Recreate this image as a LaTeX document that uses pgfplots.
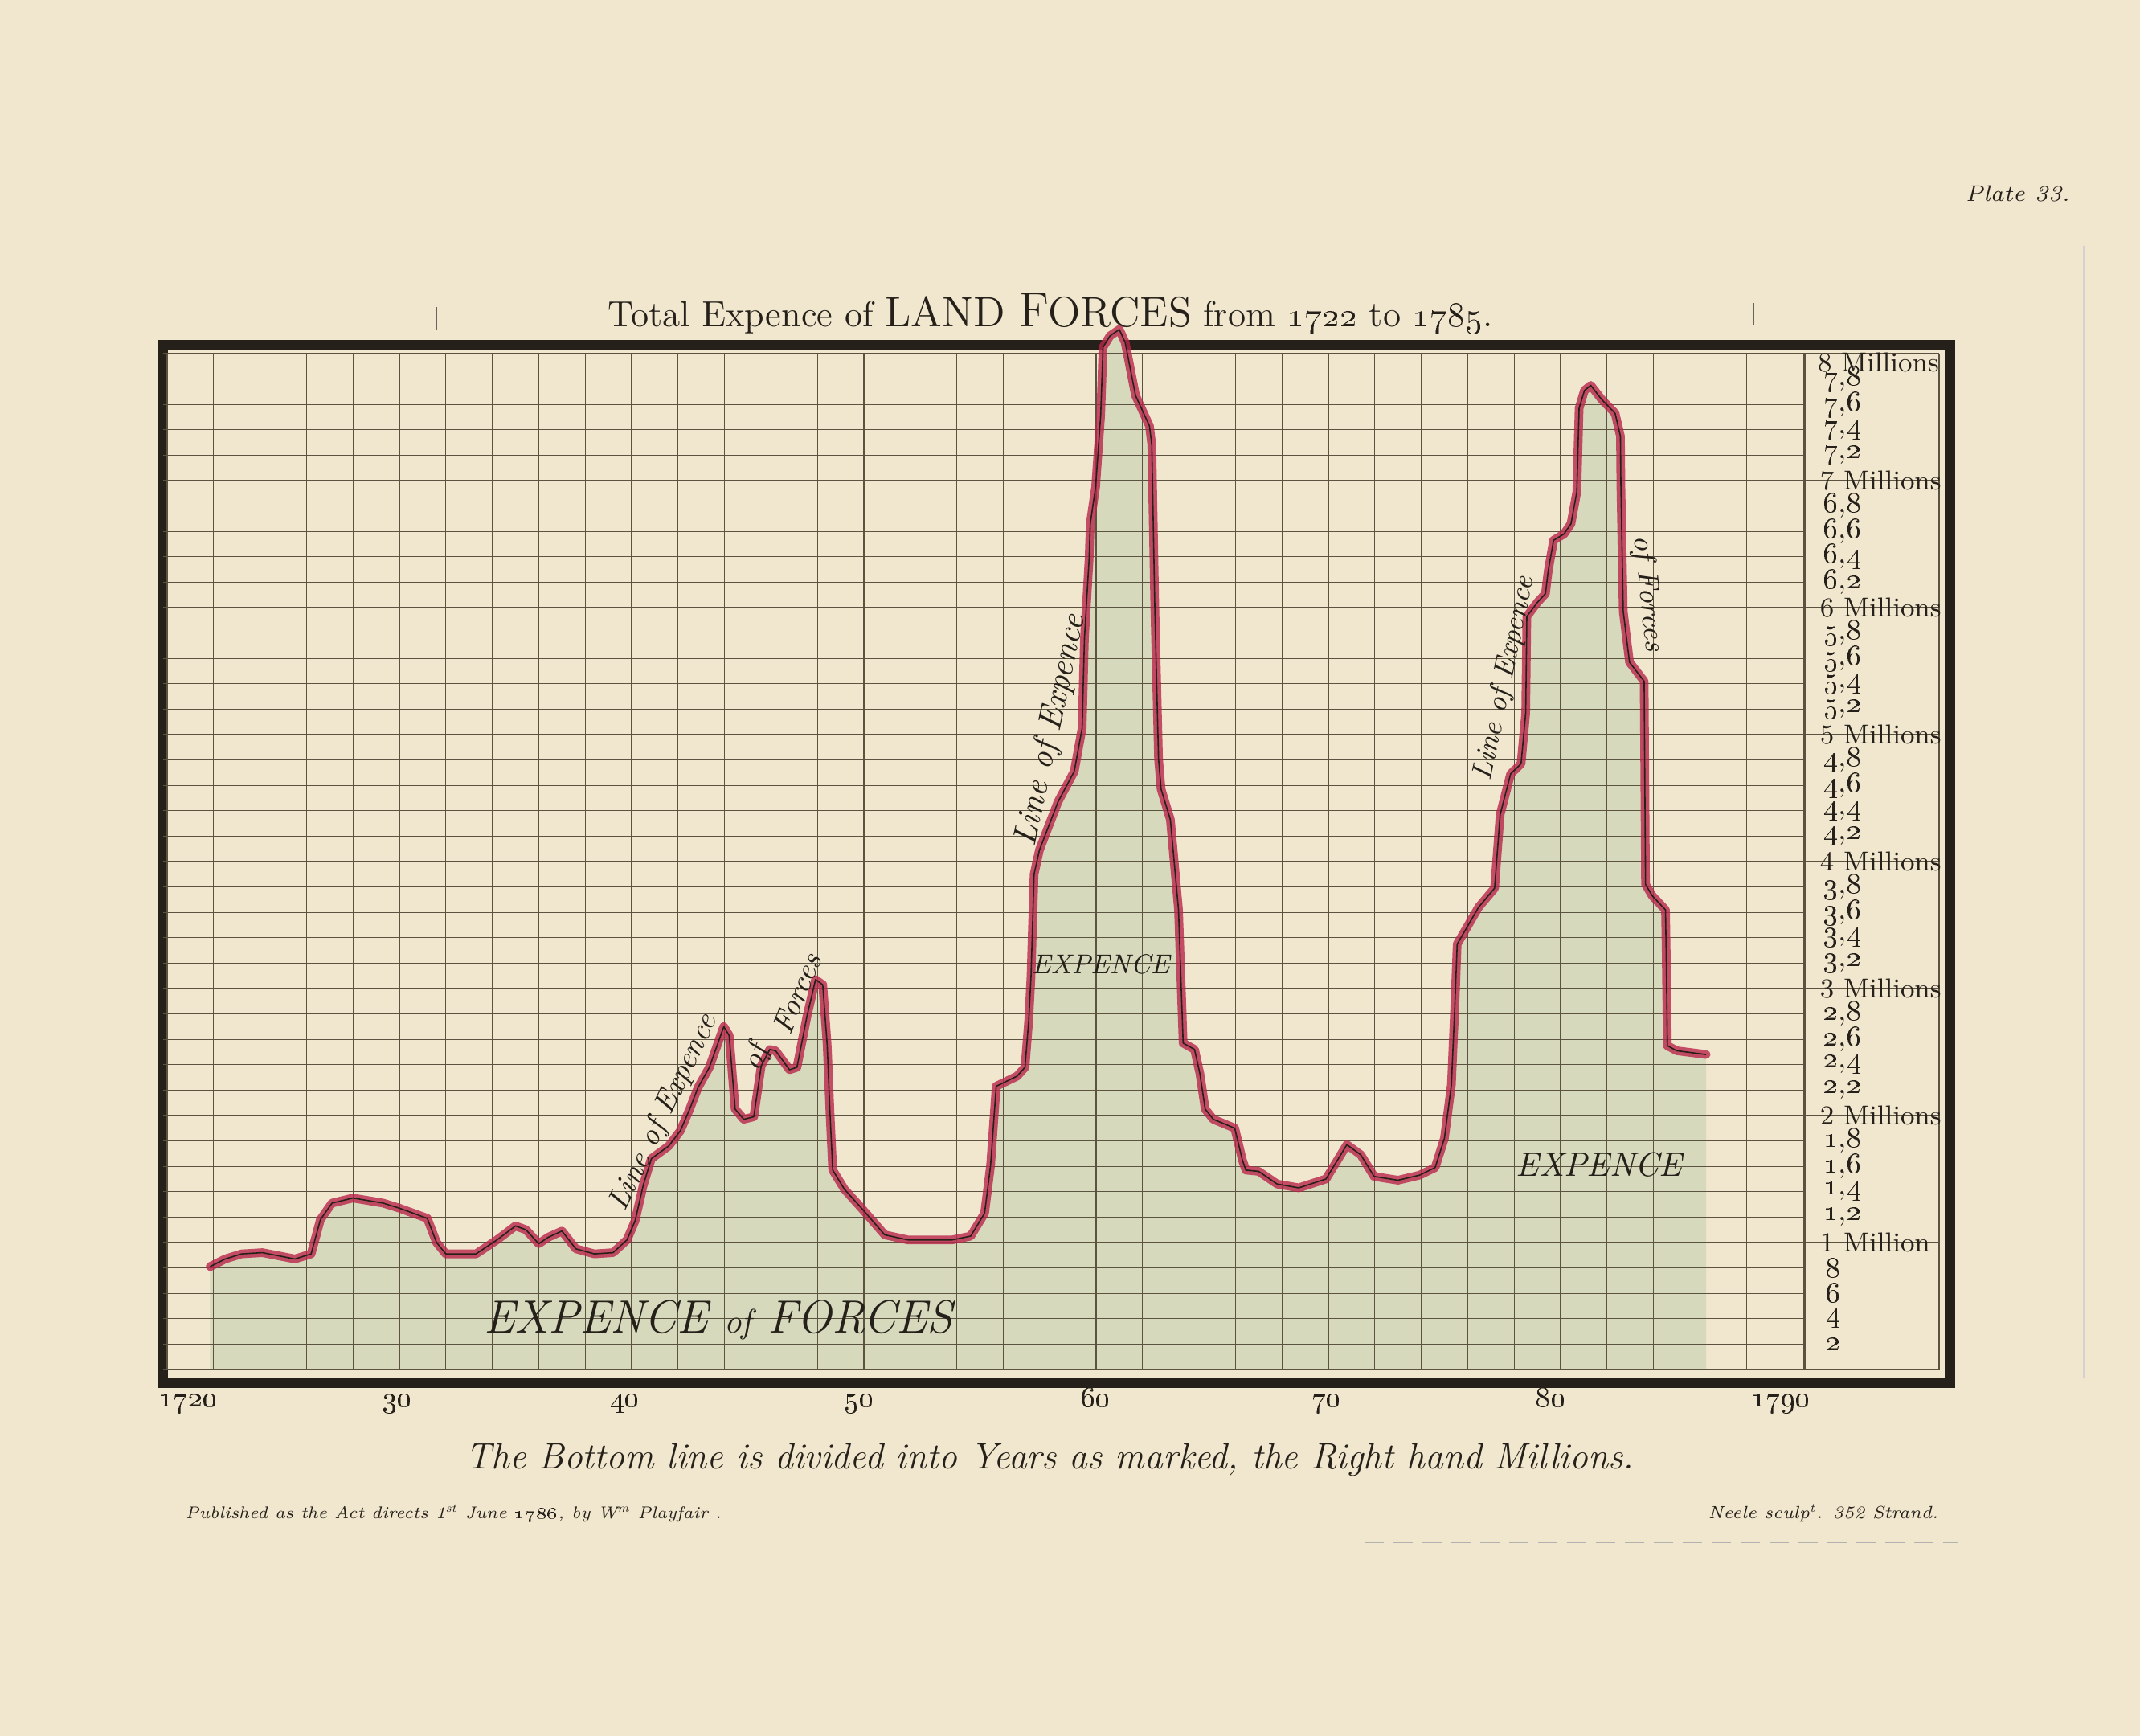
\documentclass[border=0pt]{standalone}
\usepackage{pgfplots}
\usepackage{pgfplotstable}
\pgfplotsset{compat=1.18}
\definecolor{paper}{RGB}{240,231,206}
\definecolor{wash}{RGB}{214,217,188}
\definecolor{ink}{RGB}{38,32,26}
\definecolor{gridc}{RGB}{92,82,64}
\definecolor{crimson}{RGB}{186,38,74}
\newcommand\os[1]{\oldstylenums{#1}}

\pgfplotstableread{
year value
1721.85 0.81
1722.5 0.87
1723.2 0.91
1724.1 0.92
1725.5 0.87
1726.2 0.91
1726.6 1.18
1727.1 1.31
1728.0 1.35
1729.3 1.31
1730.0 1.27
1731.2 1.19
1731.6 1.00
1732.0 0.91
1733.3 0.91
1734.2 1.02
1735.0 1.13
1735.45 1.10
1736.0 0.99
1736.4 1.04
1737.0 1.09
1737.6 0.95
1738.4 0.91
1739.2 0.92
1739.8 1.02
1740.15 1.17
1740.5 1.45
1740.85 1.66
1741.6 1.76
1742.1 1.88
1742.5 2.05
1742.86 2.22
1743.35 2.38
1743.97 2.70
1744.2 2.63
1744.46 2.05
1744.83 1.97
1745.26 1.99
1745.58 2.39
1745.95 2.52
1746.2 2.51
1746.8 2.36
1747.12 2.38
1747.55 2.78
1747.92 3.07
1748.23 3.03
1748.42 2.56
1748.54 2.03
1748.66 1.57
1749.16 1.42
1749.9 1.27
1750.9 1.06
1751.9 1.02
1753.8 1.02
1754.6 1.05
1755.2 1.23
1755.46 1.61
1755.7 2.23
1756.6 2.31
1756.94 2.38
1757.1 2.75
1757.2 3.10
1757.33 3.90
1757.56 4.09
1758.36 4.47
1759.06 4.71
1759.4 5.05
1759.5 5.76
1759.7 6.38
1759.75 6.66
1759.98 6.95
1760.2 7.52
1760.3 8.05
1760.6 8.14
1761.0 8.19
1761.25 8.09
1761.7 7.67
1762.3 7.43
1762.4 7.28
1762.53 6.00
1762.69 4.81
1762.8 4.57
1763.2 4.33
1763.55 3.62
1763.75 2.57
1764.24 2.52
1764.47 2.33
1764.7 2.05
1765.05 1.97
1765.97 1.90
1766.3 1.65
1766.45 1.57
1767.0 1.56
1767.8 1.46
1768.73 1.43
1769.9 1.50
1770.8 1.77
1771.4 1.69
1771.97 1.52
1773.0 1.49
1773.93 1.53
1774.6 1.59
1775.0 1.82
1775.3 2.24
1775.45 2.87
1775.55 3.35
1775.9 3.46
1776.47 3.64
1777.16 3.79
1777.4 4.37
1777.85 4.69
1778.3 4.77
1778.5 5.17
1778.55 5.93
1779.0 6.04
1779.35 6.11
1779.47 6.29
1779.7 6.53
1780.15 6.58
1780.45 6.66
1780.7 6.91
1780.8 7.57
1781.03 7.71
1781.3 7.75
1781.77 7.64
1782.35 7.53
1782.58 7.35
1782.6 6.95
1782.7 5.97
1782.97 5.57
1783.6 5.42
1783.66 3.82
1783.95 3.73
1784.52 3.62
1784.55 3.28
1784.6 2.55
1785.0 2.51
1786.27 2.48
}\expence

\begin{document}
\begin{tikzpicture}
\useasboundingbox (0,0) rectangle (665.75pt,540pt);
\fill[paper] (0,0) rectangle (665.75pt,540pt);
% stray engraving marks
\draw[ink!70, line width=0.5pt] (135.75pt,444.5pt) -- (135.75pt,437.5pt);
\draw[ink!70, line width=0.5pt] (545.5pt,445.75pt) -- (545.5pt,439pt);
\draw[ink!20, line width=0.4pt] (648.25pt,463.5pt) -- (648.25pt,111.25pt);
\draw[ink!35, line width=0.5pt, dash pattern=on 6pt off 3pt] (424.5pt,60.25pt) -- (609.25pt,60.25pt);

\begin{axis}[
  at={(50.625pt,109.875pt)}, anchor=south west,
  scale only axis, width=556pt, height=322.875pt,
  xmin=1719.81, xmax=1796.77, ymin=-0.105, ymax=8.07,
  clip=false,
  axis line style={line width=3.2pt, ink},
  xtick={1720.9,1729.93,1739.72,1749.8,1760.0,1769.93,1779.6,1789.5},
  xticklabels={\os{1720},\os{30},\os{40},\os{50},\os{60},\os{70},\os{80},\os{1790}},
  ytick=\empty,
  major tick length=0pt,
  xticklabel style={anchor=base, inner sep=0pt, yshift=-7.6pt, font=\fontsize{9.5}{10}\selectfont, text=ink},
]
% colour wash under the line
\addplot[draw=none, fill=wash] table[x=year,y=value]{\expence} \closedcycle;

% fine grid: years (every two) and 200,000s
\pgfplotsinvokeforeach{1722,1724,1726,1728,1732,1734,1736,1738,1742,1744,1746,1748,1752,1754,1756,1758,1762,1764,1766,1768,1772,1774,1776,1778,1782,1784,1786,1788}{
  \draw[gridc, line width=0.3pt] (axis cs:#1,0) -- (axis cs:#1,8);
}
\pgfplotsinvokeforeach{1720,1730,1740,1750,1760,1770,1780,1790.5}{
  \draw[gridc, line width=0.6pt] (axis cs:#1,0) -- (axis cs:#1,8);
}
\draw[gridc, line width=0.35pt] (axis cs:1796.3,0) -- (axis cs:1796.3,8);
\pgfplotsinvokeforeach{0.2,0.4,0.6,0.8,1.2,1.4,1.6,1.8,2.2,2.4,2.6,2.8,3.2,3.4,3.6,3.8,4.2,4.4,4.6,4.8,5.2,5.4,5.6,5.8,6.2,6.4,6.6,6.8,7.2,7.4,7.6,7.8}{
  \draw[gridc, line width=0.3pt] (axis cs:1719.81,#1) -- (axis cs:1790.5,#1);
}
\pgfplotsinvokeforeach{0,1,2,3,4,5,6,7,8}{
  \draw[gridc, line width=0.6pt] (axis cs:1719.81,#1) -- (axis cs:1796.3,#1);
}

% right hand scale
\begin{scope}[every node/.style={anchor=west, inner sep=0pt, text=ink, font=\fontsize{8.5}{9}\selectfont}]
\node at (axis cs:1791.05,7.93) {8 Millions};
\pgfplotsinvokeforeach{7,6,5,4,3,2}{
  \node at (axis cs:1791.15,#1) {#1 Millions};
}
\node at (axis cs:1791.15,1) {1 Million};
\end{scope}
\begin{scope}[every node/.style={anchor=west, inner sep=0pt, text=ink, font=\fontsize{9}{10}\selectfont}]
\pgfplotsinvokeforeach{7,6,5,4,3,2,1}{
  \node at (axis cs:1791.3,#1.8) {\os{#1},\os{8}};
  \node at (axis cs:1791.3,#1.6) {\os{#1},\os{6}};
  \node at (axis cs:1791.3,#1.4) {\os{#1},\os{4}};
  \node at (axis cs:1791.3,#1.2) {\os{#1},\os{2}};
}
\node at (axis cs:1791.4,0.8) {\os{8}};
\node at (axis cs:1791.4,0.6) {\os{6}};
\node at (axis cs:1791.4,0.4) {\os{4}};
\node at (axis cs:1791.4,0.2) {\os{2}};
\end{scope}

% the line of expence
\addplot[crimson, opacity=0.8, line width=2.7pt, line join=round, line cap=round] table[x=year,y=value]{\expence};
\addplot[ink, line width=0.4pt, line join=round] table[x=year,y=value]{\expence};

% inscriptions
\begin{scope}[every node/.style={text=ink, inner sep=0pt}]
\node[anchor=base] at (axis cs:1743.74,0.29) {\fontsize{14.5}{16}\selectfont\itshape EXPENCE {\fontsize{10.5}{12}\selectfont of} FORCES};
\node at (axis cs:1760.2,3.19) {\fontsize{8.5}{10}\selectfont\itshape EXPENCE};
\node at (axis cs:1781.66,1.61) {\fontsize{10.5}{12}\selectfont\itshape EXPENCE};
\node[rotate=64.4] at (axis cs:1741.4,2.02) {\fontsize{9.5}{11}\selectfont\itshape Line of Expence};
\node[rotate=70] at (axis cs:1745.4,2.45) {\fontsize{9.5}{11}\selectfont\itshape of};
\node[rotate=67] at (axis cs:1747.12,2.96) {\fontsize{9.5}{11}\selectfont\itshape Forces};
\node[rotate=77.8] at (axis cs:1758.06,5.03) {\fontsize{10.5}{12}\selectfont\itshape Line of Expence};
\node[rotate=78] at (axis cs:1777.6,5.44) {\fontsize{9}{11}\selectfont\itshape Line of Expence};
\node[rotate=-84] at (axis cs:1783.75,6.11) {\fontsize{9}{11}\selectfont\itshape of Forces};
\end{scope}
\end{axis}

% titles and imprint
\node[anchor=base, text=ink, inner sep=0pt] at (326.75pt,438.25pt)
  {\fontsize{11.3}{12}\selectfont Total Expence of {\fontsize{13.2}{14}\selectfont LAND {\fontsize{15.2}{16}\selectfont F}ORCES} from \os{1722} to \os{1785}.};
\node[anchor=base, text=ink, inner sep=0pt] at (326.6pt,83pt)
  {\fontsize{11.4}{12}\selectfont\itshape The Bottom line is divided into Years as marked, the Right hand Millions.};
\node[anchor=base west, text=ink, inner sep=0pt] at (57.5pt,67.5pt)
  {\fontsize{5.3}{7}\selectfont\itshape Published as the Act directs 1\textsuperscript{st} June \os{1786}, by W\textsuperscript{m} Playfair .};
\node[anchor=base east, text=ink, inner sep=0pt] at (603.25pt,67.5pt)
  {\fontsize{5.5}{7}\selectfont\itshape Neele sculp\textsuperscript{t}. 352 Strand.};
\node[anchor=base west, text=ink, inner sep=0pt] at (611.25pt,477.25pt)
  {\fontsize{7}{8}\selectfont\itshape Plate 33.};
\end{tikzpicture}
\end{document}
